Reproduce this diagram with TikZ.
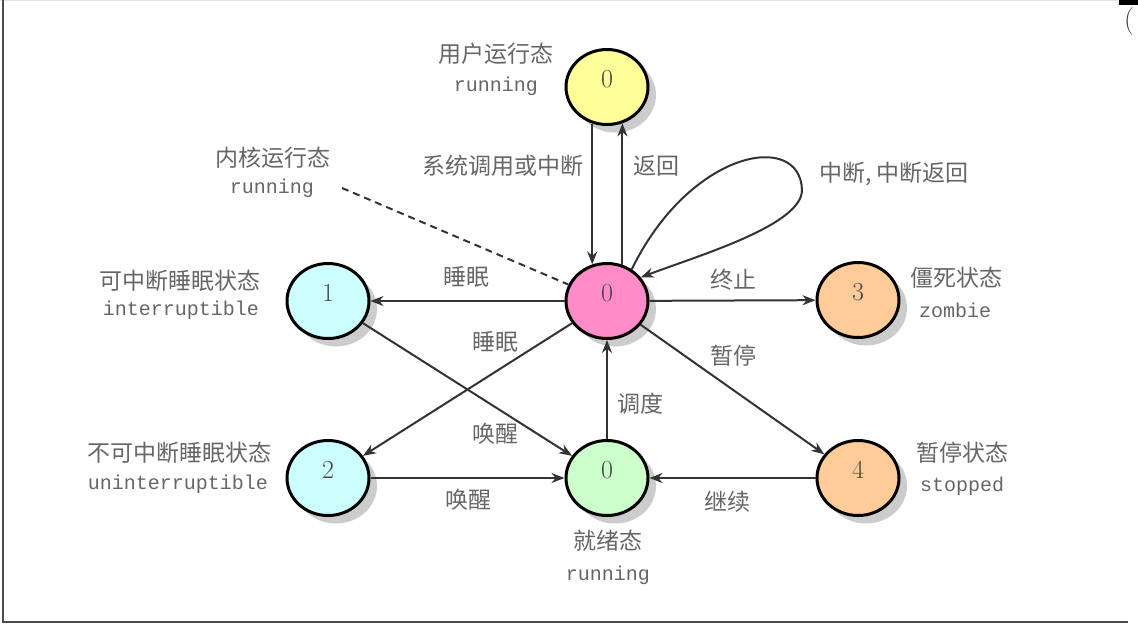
\documentclass[tikz,border=0pt]{standalone}
\usepackage{fontspec}
\newfontfamily\cjk{Noto Sans CJK SC}
\setmonofont{Liberation Mono}
\usetikzlibrary{arrows.meta,shapes.geometric,shadows}
\definecolor{userfill}{RGB}{255,255,153}
\definecolor{kernelfill}{RGB}{255,140,200}
\definecolor{sleepfill}{RGB}{204,255,255}
\definecolor{readyfill}{RGB}{204,255,204}
\definecolor{endfill}{RGB}{255,204,153}
\begin{document}
\begin{tikzpicture}[x=1pt, y=-1pt,
                    line width=2pt,
                    >={Stealth[length=13pt,width=10pt]},
                    ]
    \tikzstyle{state}=[ellipse, draw=black, fill=white, line width=3pt,
        minimum width=82pt, minimum height=75pt, inner sep=0pt,
        text height=16pt, text depth=16pt, text=black!72,
        font=\fontsize{26}{26}\selectfont,
        drop shadow={shadow xshift=8pt, shadow yshift=-8pt, fill=black!20, opacity=1}]
    \tikzstyle{userstate}=[state, fill=userfill]
    \tikzstyle{kernelstate}=[state, fill=kernelfill]
    \tikzstyle{sleepstate}=[state, fill=sleepfill]
    \tikzstyle{readystate}=[state, fill=readyfill]
    \tikzstyle{endstate}=[state, fill=endfill]
    \tikzstyle{trans}=[->, draw=black!80, line width=2pt]
    \tikzstyle{hint}=[draw=black!80, line width=2pt, dash pattern=on 7pt off 5pt]
    \tikzstyle{cn}=[inner sep=0pt, text=black!60, font=\cjk\fontsize{23}{23}\selectfont]
    \tikzstyle{en}=[inner sep=0pt, text=black!60, font=\ttfamily\fontsize{20}{20}\selectfont]

    \useasboundingbox (0,0) rectangle (1138,625);

    % frame of the screenshot
    \draw[black!10, line width=1pt] (0,0.5) -- (1120,0.5);
    \draw[black!70, line width=2pt] (3,0) -- (3,622) -- (1128,622);
    \fill[black] (1119,0) rectangle (1138,5);
    \node[inner sep=0pt, text=black!75, font=\fontsize{28}{28}\selectfont] (paren) at (1129,22) {(};

    % states
    \node[userstate]   (user)   at (607,87)  {0};
    \node[kernelstate] (kernel) at (607,301) {0};
    \node[sleepstate]  (intr)   at (328,301) {1};
    \node[sleepstate]  (unintr) at (328,478) {2};
    \node[readystate]  (ready)  at (607,478) {0};
    \node[endstate]    (zombie) at (858,300) {3};
    \node[endstate]    (stop)   at (858,478) {4};

    % transitions
    \draw[trans] (user.248) -- (kernel.112);
    \draw[trans] (kernel.67) -- (user.293);
    \draw[trans] (kernel) -- (intr);
    \draw[trans] (kernel) -- (unintr);
    \draw[trans] (intr) -- (ready);
    \draw[trans] (unintr) -- (ready);
    \draw[trans] (ready) -- (kernel);
    \draw[trans] (kernel) -- (zombie);
    \draw[trans] (kernel) -- (stop);
    \draw[trans] (stop) -- (ready);
    \draw[trans] (kernel.52) .. controls (690,150) and (800,130) .. (802,190)
                 .. controls (802,225) and (700,255) .. (kernel.35);

    \coordinate (kdash) at (342,188);
    \draw[hint] (kdash) -- (kernel);

    % state names
    \node[cn] (userlbl)   at (496,54)  {用户运行态};
    \node[en] (userrun)   at (496,86)  {running};
    \node[cn] (kernlbl)   at (273,158) {内核运行态};
    \node[en] (kernrun)   at (272,188) {running};
    \node[cn] (intrlbl)   at (180,281) {可中断睡眠状态};
    \node[en] (intreng)   at (181,310) {interruptible};
    \node[cn] (unintrlbl) at (179,453) {不可中断睡眠状态};
    \node[en] (unintreng) at (178,484) {uninterruptible};
    \node[cn] (readylbl)  at (608,541) {就绪态};
    \node[en] (readyrun)  at (608,575) {running};
    \node[cn] (zomblbl)   at (956,278) {僵死状态};
    \node[en] (zombeng)   at (955,310) {zombie};
    \node[cn] (stoplbl)   at (962,453) {暂停状态};
    \node[en] (stopeng)   at (962,486) {stopped};

    % transition labels
    \node[cn] (syscall)   at (503,166) {系统调用或中断};
    \node[cn] (ret)       at (656,166) {返回};
    \node[cn] (irq)       at (894,174) {中断, 中断返回};
    \node[cn] (sleepa)    at (466,277) {睡眠};
    \node[cn] (sleepb)    at (495,342) {睡眠};
    \node[cn] (wakea)     at (495,434) {唤醒};
    \node[cn] (wakeb)     at (468,500) {唤醒};
    \node[cn] (sched)     at (640,404) {调度};
    \node[cn] (term)      at (733,280) {终止};
    \node[cn] (pause)     at (733,356) {暂停};
    \node[cn] (resume)    at (727,502) {继续};
\end{tikzpicture}
\end{document}
